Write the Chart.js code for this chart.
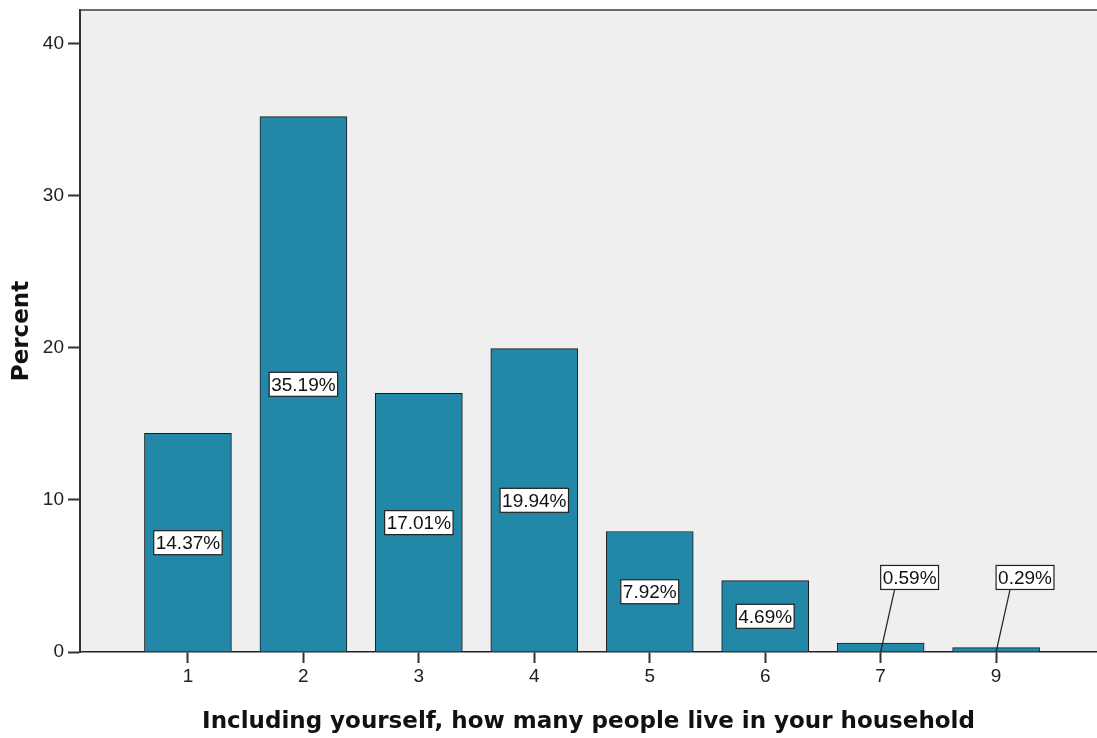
<!DOCTYPE html>
<html>
<head>
<meta charset="utf-8">
<script src="https://cdn.jsdelivr.net/npm/chart.js@4/dist/chart.umd.min.js"></script>
<style>
  html, body { margin: 0; padding: 0; background: #fff; }
  #wrap { width: 1097px; height: 738px; }
</style>
</head>
<body>
<div id="wrap"><canvas id="chart"></canvas></div>
<script>
// Household size distribution
const categories = ['1', '2', '3', '4', '5', '6', '7', '9'];
const percents = [14.37, 35.19, 17.01, 19.94, 7.92, 4.69, 0.59, 0.29];
const yTicks = [0, 10, 20, 30, 40];

const xTitle = 'Including yourself, how many people live in your household';
const yTitle = 'Percent';

// white boxed value labels, small bars get a callout with a leader line
const valueLabels = {
    id: 'valueLabels',
    afterDatasetsDraw(chart) {
        const { ctx, scales: { y } } = chart;
        const meta = chart.getDatasetMeta(0);
        ctx.save();
        ctx.font = '19px "Liberation Sans", Arial, sans-serif';
        ctx.textAlign = 'center';
        ctx.textBaseline = 'middle';
        meta.data.forEach((bar, i) => {
            const v = percents[i];
            const txt = v.toFixed(2) + '%';
            const w = ctx.measureText(txt).width + 4;
            const h = 24;
            let cx = bar.x, cy = y.getPixelForValue(v / 2);
            const callout = v < 2;
            if (callout) {
                cx = bar.x + w / 2;
                cy = y.getPixelForValue(4.9);
            }
            if (callout) {
                ctx.strokeStyle = '#222';
                ctx.lineWidth = 1.2;
                ctx.beginPath();
                ctx.moveTo(cx - w / 2 + 14, cy + h / 2);
                ctx.lineTo(bar.x, y.getPixelForValue(0));
                ctx.stroke();
            }
            ctx.fillStyle = '#fff';
            ctx.fillRect(cx - w / 2, cy - h / 2, w, h);
            ctx.strokeStyle = '#222';
            ctx.lineWidth = 1.2;
            ctx.strokeRect(cx - w / 2, cy - h / 2, w, h);
            ctx.fillStyle = '#111';
            ctx.fillText(txt, cx, cy + 1);
        });
        ctx.restore();
    }
};

// grey plot background and top frame line
const plotFrame = {
    id: 'plotFrame',
    beforeDraw(chart) {
        const { ctx, chartArea: a } = chart;
        ctx.save();
        ctx.fillStyle = '#efefef';
        ctx.fillRect(a.left, a.top, a.right - a.left, a.bottom - a.top);
        ctx.strokeStyle = '#6b6b6b';
        ctx.lineWidth = 2;
        ctx.beginPath();
        ctx.moveTo(a.left, a.top);
        ctx.lineTo(a.right, a.top);
        ctx.stroke();
        ctx.restore();
    }
};

const tickFont = { family: '"Liberation Sans", Arial, sans-serif', size: 19 };
const titleFont = { family: '"DejaVu Sans", Verdana, sans-serif', size: 23, weight: 'bold' };

new Chart(document.getElementById('chart'), {
    type: 'bar',
    data: {
        datasets: [{
            data: categories.map((c, i) => ({ x: i + 1, y: percents[i] })),
            backgroundColor: '#2387a8',
            borderColor: '#1b1b1b',
            borderWidth: 1,
            barThickness: 87
        }]
    },
    options: {
        responsive: true,
        maintainAspectRatio: false,
        animation: false,
        layout: { padding: { top: 10, right: 0, left: 0, bottom: 0 } },
        plugins: { legend: { display: false }, tooltip: { enabled: false } },
        scales: {
            x: {
                type: 'linear',
                offset: false,
                min: 0.065,
                max: 8.874,
                afterBuildTicks: s => { s.ticks = categories.map((c, i) => ({ value: i + 1 })); },
                afterFit: s => { s.height = 86; s.paddingLeft = 0; s.paddingRight = 0; },
                ticks: { color: '#222', font: tickFont, padding: 2, callback: v => categories[v - 1] },
                grid: { offset: false, drawOnChartArea: false, drawTicks: true, tickLength: 11, tickWidth: 2, tickColor: '#333' },
                border: { display: true, color: '#222', width: 1.5 },
                title: { display: true, text: xTitle, color: '#111', font: titleFont, padding: { top: 0, bottom: 2 } }
            },
            y: {
                min: 0,
                max: 42.2,
                afterBuildTicks: s => { s.ticks = yTicks.map(v => ({ value: v })); },
                afterFit: s => { s.width = 80; s.paddingTop = 0; s.paddingBottom = 0; },
                ticks: { color: '#222', font: tickFont, padding: 4 },
                grid: { drawOnChartArea: false, drawTicks: true, tickLength: 12, tickWidth: 2, tickColor: '#333' },
                border: { display: true, color: '#333', width: 2 },
                title: { display: true, text: yTitle, color: '#111', font: titleFont, padding: { top: 8, bottom: 0 } }
            }
        }
    },
    plugins: [plotFrame, valueLabels]
});
</script>
</body>
</html>
